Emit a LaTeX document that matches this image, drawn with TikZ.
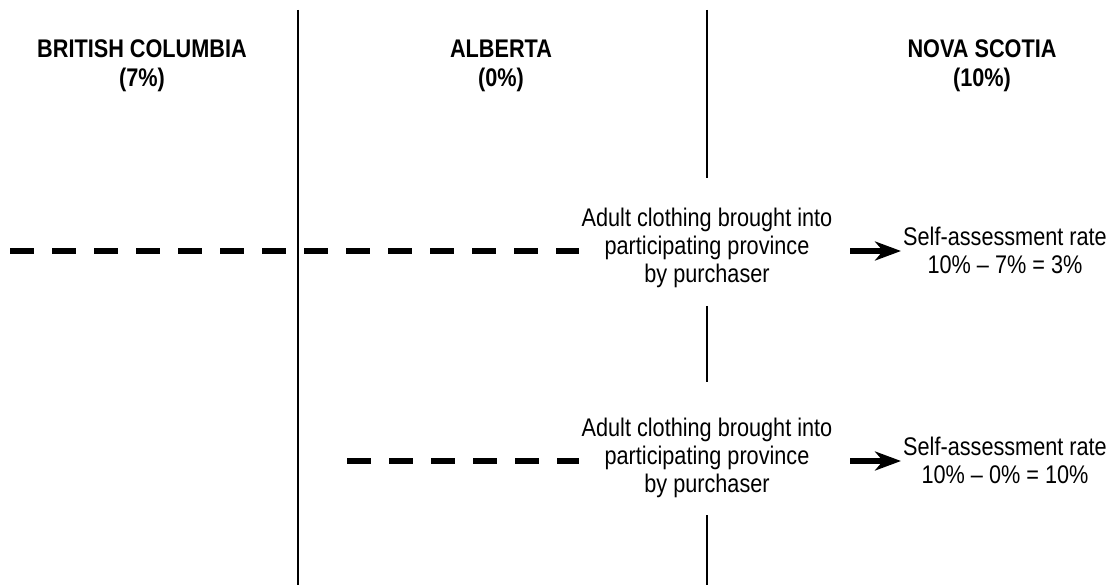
\documentclass[tikz,border=0pt]{standalone}
\usepackage{fontspec}
\setmainfont{Liberation Sans}[FakeStretch=0.85]
\usetikzlibrary{arrows.meta}
\begin{document}
\begin{tikzpicture}[x=1pt,y=-1pt,
  divider/.style={line width=2.5pt},
  flow/.style={line width=6pt,dash pattern=on 24pt off 18pt},
  heading/.style={align=center,font=\fontsize{25.5}{29}\selectfont\bfseries,inner sep=0pt},
  label/.style={align=center,font=\fontsize{25.5}{28}\selectfont,inner sep=2pt},
  tip/.style={line width=6pt,-{Stealth[length=26pt,width=19pt,inset=8pt]}}]
\useasboundingbox (0,0) rectangle (1114,585);

% province headings
\node[heading] (bc) at (142,66) {BRITISH COLUMBIA\\(7\%)};
\node[heading] (ab) at (501,66) {ALBERTA\\(0\%)};
\node[heading] (ns) at (982,66) {NOVA SCOTIA\\(10\%)};

% borders between provinces
\coordinate (b1t) at (298,10);
\coordinate (b1b) at (298,585);
\draw[divider] (b1t) -- (b1b);
\coordinate (b2t) at (707,10);
\coordinate (b2a) at (707,178);
\coordinate (b2c) at (707,306);
\coordinate (b2d) at (707,382);
\coordinate (b2e) at (707,515);
\coordinate (b2b) at (707,585);
\draw[divider] (b2t) -- (b2a) (b2c) -- (b2d) (b2e) -- (b2b);

% goods entering the participating province
\node[label] (in1) at (707,248) {Adult clothing brought into\\participating province\\by purchaser};
\node[label] (in2) at (707,458) {Adult clothing brought into\\participating province\\by purchaser};
\node[label] (rate1) at (1005,250) {Self-assessment rate\\10\% -- 7\% = 3\%};
\node[label] (rate2) at (1005,460) {Self-assessment rate\\10\% -- 0\% = 10\%};

\coordinate (s1) at (10,251);
\coordinate (s2) at (347,461);
\draw[flow] (s1) -- (in1.west |- s1);
\draw[flow] (s2) -- (in2.west |- s2);

\coordinate (a1) at (850,251);
\coordinate (a2) at (850,461);
\draw[tip] (a1) -- (rate1.west |- a1);
\draw[tip] (a2) -- (rate2.west |- a2);
\end{tikzpicture}
\end{document}
